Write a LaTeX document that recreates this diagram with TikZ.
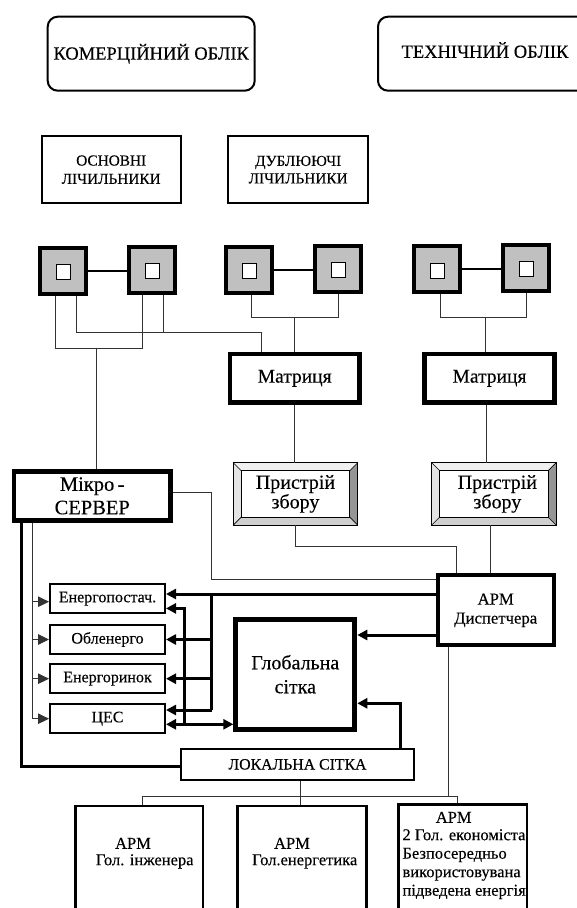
\documentclass[tikz,border=0pt]{standalone}
\usepackage{fontspec}
\setmainfont[FakeBold=0.3]{Liberation Serif}
\usetikzlibrary{arrows.meta,calc}
\newcommand\setfs[2]{\fontsize{#1pt}{#2pt}\selectfont}
\definecolor{meterfill}{HTML}{C0C0C0}
\definecolor{bevtop}{HTML}{F0F0F0}
\definecolor{bevleft}{HTML}{E4E4E4}
\definecolor{bevright}{HTML}{959595}
\definecolor{bevbottom}{HTML}{CFCFCF}
\begin{document}
\begin{tikzpicture}[x=1pt,y=-1pt,
  conn/.style={line width=1pt,draw=black!80},
  link/.style={line width=2pt},
  heavy/.style={line width=3pt},
  endtip/.style={-{Triangle[length=10pt,width=10pt]}},
  thintip/.style={-{Triangle[length=11pt,width=10.5pt]}},
  bothtips/.style={{Triangle[length=10pt,width=10pt]}-{Triangle[length=10pt,width=10pt]}},
  roundbox/.style={draw,line width=2pt,rounded corners=10pt,inner sep=0},
  framebox/.style={draw,line width=2pt,inner sep=0},
  heavybox/.style={draw,line width=4.5pt,inner sep=0},
  meter/.style={draw,line width=4pt,fill=meterfill,minimum width=46pt,minimum height=46pt,inner sep=0},
  cell/.style={draw,line width=1.3pt,fill=white,minimum width=14pt,minimum height=15pt,inner sep=0},
  bevelbox/.style={inner sep=0,outer sep=0,minimum width=124.4pt,minimum height=62.3pt,align=center,font=\setfs{20}{16.7}},
  smallbox/.style={framebox,minimum width=115pt,minimum height=29pt,font=\setfs{16}{18}},
  txt/.style={inner sep=0,font=\setfs{16.5}{18.5}}]
\useasboundingbox (0,0) rectangle (577,908);
\clip (0,0) rectangle (577,908);

% --- headings ---
\node[roundbox,minimum width=207pt,minimum height=74pt,font=\setfs{18.5}{22}] (kom) at (151.2,53.7) {КОМЕРЦІЙНИЙ ОБЛІК};
\node[roundbox,minimum width=222pt,minimum height=74pt] (tech) at (489,53.7) {};
\node[inner sep=0,font=\setfs{18.5}{22}] (techt) at (485,50) {ТЕХНІЧНИЙ ОБЛІК};

\node[framebox,minimum width=139pt,minimum height=67.3pt,align=center,font=\setfs{15.3}{18.3}] (osn) at (111.2,169.7) {ОСНОВНІ\\ЛІЧИЛЬНИКИ};
\node[framebox,minimum width=139.6pt,minimum height=67.3pt,align=center,font=\setfs{15.3}{17.5}] (dub) at (298.2,169.7) {ДУБЛЮЮЧІ\\ЛІЧИЛЬНИКИ};

% --- meters ---
\foreach \n/\x/\y in {mA/63/270.7, mB/151.7/269.7, mC/249/269.7, mD/337.7/268.7, mE/436.7/269.2, mF/525.7/267.8} {
  \node[meter] (\n) at (\x,\y) {};
  \node[cell] (c\n) at ([xshift=0.6pt,yshift=-1.5pt]\n.center) {};
}
\draw[link] (mA.east) -- (mA.east -| mB.west);
\draw[link] (mC.east) -- (mC.east -| mD.west);
\draw[link] (mE.east) -- (mE.east -| mF.west);

% --- matrices, collectors, server ---
\node[heavybox,minimum width=129.5pt,minimum height=48.8pt,font=\setfs{19.5}{22}] (mat1) at (294.7,378.3) {Матриця};
\node[heavybox,minimum width=129.9pt,minimum height=48.8pt,font=\setfs{19.5}{22}] (mat2) at (489.5,378.3) {Матриця};

\node[bevelbox] (pr1) at (295.5,493.9) {Пристрій\\збору};
\node[bevelbox] (pr2) at (493.9,493.9) {\hspace*{7pt}Пристрій\\\hspace*{7pt}збору};
\foreach \p in {pr1,pr2} {
  \fill[bevtop] (\p.north west) -- (\p.north east) -- ($(\p.north east)+(-8,8)$) -- ($(\p.north west)+(8,8)$) -- cycle;
  \fill[bevleft] (\p.north west) -- ($(\p.north west)+(8,8)$) -- ($(\p.south west)+(8,-8)$) -- (\p.south west) -- cycle;
  \fill[bevright] (\p.north east) -- (\p.south east) -- ($(\p.south east)+(-8,-8)$) -- ($(\p.north east)+(-8,8)$) -- cycle;
  \fill[bevbottom] (\p.south west) -- ($(\p.south west)+(8,-8)$) -- ($(\p.south east)+(-8,-8)$) -- (\p.south east) -- cycle;
  \draw[line width=1pt] (\p.north west) rectangle (\p.south east);
  \draw[line width=0.8pt] ($(\p.north west)+(8,8)$) rectangle ($(\p.south east)+(-8,-8)$);
  \draw[line width=0.6pt] (\p.north west) -- ($(\p.north west)+(8,8)$)
                          (\p.north east) -- ($(\p.north east)+(-8,8)$)
                          (\p.south west) -- ($(\p.south west)+(8,-8)$)
                          (\p.south east) -- ($(\p.south east)+(-8,-8)$);
}

\node[heavybox,minimum width=156.4pt,minimum height=49.2pt,align=center,font=\setfs{20.5}{23.4}] (mikro) at (92.25,495.85) {Мікро\,-\\СЕРВЕР};
\node[draw,line width=4pt,inner sep=0,minimum width=116pt,minimum height=70pt,align=center,font=\setfs{16.7}{19}] (arm) at (495.7,610.3) {АРМ\\Диспетчера};
\node[draw,line width=5pt,inner sep=0,minimum width=119pt,minimum height=110pt,align=center,font=\setfs{20}{24}] (glob) at (295.3,674.2) {Глобальна\\сітка};

% --- receivers ---
\node[smallbox] (enp) at (107.5,598.7) {Енергопостач.};
\node[smallbox] (obl) at (107.5,639.5) {Обленерго};
\node[smallbox] (rin) at (107.5,678.7) {Енергоринок};
\node[smallbox] (tses) at (107.5,718.7) {ЦЕС};

\node[framebox,minimum width=233pt,minimum height=31.3pt,font=\setfs{15.8}{18}] (lok) at (297.5,764.35) {ЛОКАЛЬНА СІТКА};

% --- workstations ---
\node[draw,line width=2.5pt,minimum width=127.8pt,minimum height=123.75pt,inner sep=0] (b1) at (139.15,868.1) {};
\node[draw,line width=2.5pt,minimum width=129.2pt,minimum height=123.75pt,inner sep=0] (b2) at (301.85,868.1) {};
\node[draw,line width=2.5pt,minimum width=128.5pt,minimum height=125.4pt,inner sep=0] (b3) at (462.8,867.3) {};
\node[txt] (b1a) at (133,843.3) {АРМ};
\node[txt] (b1b) at (144.7,861.5) {Гол. інженера};
\node[txt] (b2a) at (292,843.3) {АРМ};
\node[txt] (b2b) at (304.7,861.5) {Гол.енергетика};
\node[txt] (b3a) at (453.7,817.3) {АРМ};
\node[txt,anchor=west,align=left] (b3b) at (402.3,864.2) {2 Гол. економіста\\Безпосередньо\\використовувана\\підведена енергія};

% --- meter taps ---
\coordinate (yL1) at (0,348.3);
\coordinate (yL2) at (0,332.7);
\coordinate (yL3) at (0,317.7);
\coordinate (yL4) at (0,317.3);
\coordinate (yL5) at (0,546.7);
\coordinate (tA1) at ([xshift=-8pt]mA.south);
\coordinate (tA2) at ([xshift=13pt]mA.south);
\coordinate (tB1) at ([xshift=-9pt]mB.south);
\coordinate (tB2) at ([xshift=11.6pt]mB.south);
\coordinate (tC) at ([xshift=2.7pt]mC.south);
\coordinate (tD) at ([xshift=0.6pt]mD.south);
\coordinate (tE) at ([xshift=3.3pt]mE.south);
\coordinate (tF) at ([xshift=1pt]mF.south);
\coordinate (tm1) at ([xshift=-33.7pt]mat1.north);
\coordinate (tm2) at ([xshift=-4.5pt]mat2.north);
\coordinate (tmk) at ([xshift=4.45pt]mikro.north);

\draw[conn] (tA1) -- (tA1 |- yL1) -- (tB1 |- yL1) -- (tB1);
\draw[conn] (tmk |- yL1) -- (tmk);
\draw[conn] (tA2) -- (tA2 |- yL2) -- (tm1 |- yL2) -- (tm1);
\draw[conn] (tB2) -- (tB2 |- yL2);
\draw[conn] (tC) -- (tC |- yL3) -- (tD |- yL3) -- (tD);
\draw[conn] (mat1.north |- yL3) -- (mat1.north);
\draw[conn] (tE) -- (tE |- yL4) -- (tF |- yL4) -- (tF);
\draw[conn] (tm2 |- yL4) -- (tm2);

% --- matrices to collectors to dispatcher ---
\coordinate (tm2b) at ([xshift=-3.5pt]mat2.south);
\coordinate (ta1) at ([xshift=-39.7pt]arm.north);
\coordinate (tp2) at ([xshift=-3.2pt]pr2.south);
\draw[conn] (mat1.south) -- (mat1.south |- pr1.north);
\draw[conn] (tm2b) -- (tm2b |- pr2.north);
\draw[conn] (pr1.south) -- (pr1.south |- yL5) -- (ta1 |- yL5) -- (ta1);
\draw[conn] (tp2) -- (tp2 |- arm.north);

% server to dispatcher
\coordinate (mke) at ([yshift=3pt]mikro.east);
\coordinate (xM) at (211,0);
\coordinate (am) at ([yshift=31pt]arm.west);
\draw[conn] (mke) -- (xM |- mke) -- (xM |- am) -- (am);

% --- server to receivers ---
\coordinate (lv) at ([xshift=-60pt]mikro.south);
\coordinate (aE) at ([yshift=-3pt]enp.west);
\draw[conn] (lv) -- (lv |- tses.west);
\foreach \t in {aE,obl.west,rin.west,tses.west}
  \draw[conn,thintip] (lv |- \t) -- (\t);

\coordinate (lk) at ([xshift=-70.5pt]mikro.south);
\coordinate (lw) at ([yshift=-2.3pt]lok.west);
\draw[heavy] (lk) -- (lk |- lw) -- (lw);

% --- dispatcher and networks ---
\coordinate (rA) at ([yshift=16.3pt]arm.west);
\coordinate (x1) at (211.7,0);
\coordinate (x2) at (184,0);
\coordinate (tu) at ([yshift=8.7pt]tses.east);
\coordinate (eb) at ([yshift=-9.7pt]enp.east);
\coordinate (td) at ([yshift=-5.6pt]tses.east);
\coordinate (rG) at ([yshift=-24.7pt]arm.west);
\coordinate (lu) at ([xshift=102.5pt]lok.north);
\coordinate (gy) at (0,703.3);

\draw[heavy,endtip] (rA) -- (rA -| enp.east);
\draw[heavy] (x1 |- rA) -- (x1 |- tu);
\draw[heavy,endtip] (x1 |- obl.east) -- (obl.east);
\draw[heavy,endtip] (x1 |- rin.east) -- (rin.east);
\draw[heavy,endtip] (x1 |- tu) -- (tu);
\draw[heavy,endtip] (x2 |- td) -- (x2 |- eb) -- (eb);
\draw[heavy,bothtips] (td) -- (td -| glob.west);
\draw[heavy,endtip] (rG) -- (rG -| glob.east);
\draw[heavy,endtip] (lu) -- (lu |- gy) -- (glob.east |- gy);

% --- local network bus ---
\coordinate (busy) at (0,796.7);
\coordinate (b1t) at ([xshift=3.5pt]b1.north);
\coordinate (b3t) at ([xshift=-5.5pt]b3.north);
\coordinate (lb) at ([xshift=2.5pt]lok.south);
\coordinate (ab) at ([xshift=-47.4pt]arm.south);
\draw[conn] (b1t) -- (b1t |- busy) -- (b3t |- busy) -- (b3t);
\draw[conn] (lb) -- (lb |- b2.north);
\draw[conn] (ab) -- (ab |- busy);
\end{tikzpicture}
\end{document}
